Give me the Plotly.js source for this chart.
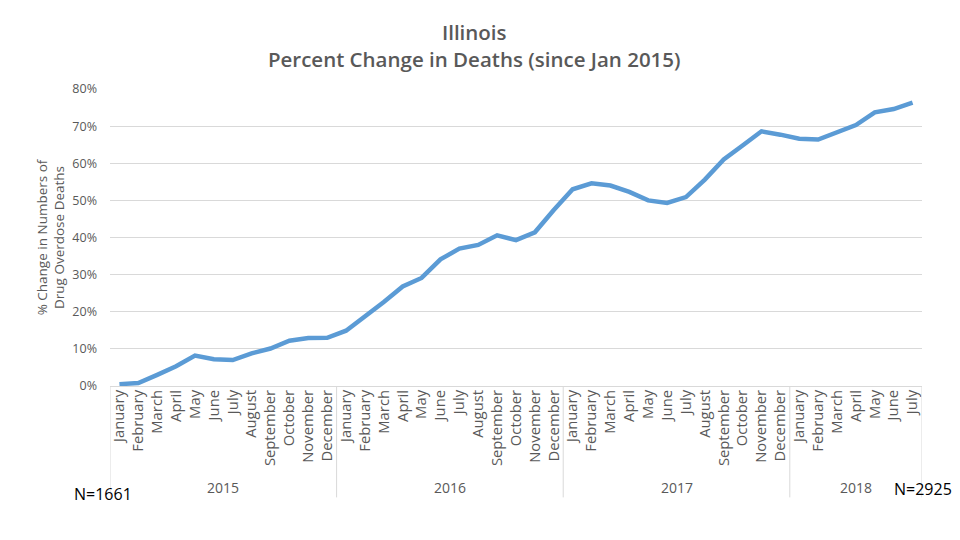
<!DOCTYPE html>
<html>
<head>
<meta charset="utf-8">
<script src="https://cdn.plot.ly/plotly-3.0.1.min.js"></script>
<style>html,body{margin:0;padding:0;background:#fff;}#chart{width:960px;height:540px;}</style>
</head>
<body>
<div id="chart"></div>
<script>
const months = ["January","February","March","April","May","June","July","August","September","October","November","December"];
const years = ["2015","2016","2017","2018"];
const monthsPerYear = [12, 12, 12, 7];
const pctChange = [
  0.5, 0.8, 3.0, 5.3, 8.2, 7.2, 7.0, 8.8, 10.1, 12.2, 12.9, 13.0,
  14.9, 18.6, 22.6, 26.8, 29.1, 34.1, 37.0, 38.0, 40.6, 39.3, 41.4, 47.4,
  53.0, 54.6, 54.0, 52.3, 50.0, 49.3, 50.9, 55.6, 61.0, 64.8, 68.6, 67.7,
  66.6, 66.4, 68.2, 70.3, 73.7, 74.6, 76.3
];
const yTicks = [0, 10, 20, 30, 40, 50, 60, 70, 80];
const nStart = "N=1661";
const nEnd = "N=2925";

const tickText = [];
const idx = [];
years.forEach((y, yi) => {
  for (let m = 0; m < monthsPerYear[yi]; m++) { tickText.push(months[m]); }
});
pctChange.forEach((v, i) => idx.push(i));

const font = "'Open Sans', 'Noto Sans', sans-serif";
const grey = "#595959";

const shapes = [];
const annotations = [];
let start = 0;
const boundaries = [-0.5];
years.forEach((y, yi) => {
  const end = start + monthsPerYear[yi];
  boundaries.push(end - 0.5);
  annotations.push({
    x: (start + end - 1) / 2, xref: "x", y: -0.342, yref: "paper",
    text: y, showarrow: false, font: {family: font, size: 14, color: grey},
    xanchor: "center", yanchor: "middle"
  });
  start = end;
});
boundaries.forEach(b => {
  shapes.push({type: "line", xref: "x", yref: "paper", x0: b, x1: b, y0: 0, y1: -0.375,
    line: {color: "#D9D9D9", width: 1}});
});
annotations.push({x: -0.009, xref: "paper", y: -0.363, yref: "paper", text: nStart, showarrow: false,
  font: {family: font, size: 16, color: "#000"}, xanchor: "center", yanchor: "middle"});
annotations.push({x: 1.001, xref: "paper", y: -0.346, yref: "paper", text: nEnd, showarrow: false,
  font: {family: font, size: 16, color: "#000"}, xanchor: "center", yanchor: "middle"});

const trace = {
  x: idx, y: pctChange, type: "scatter", mode: "lines",
  line: {color: "#5B9BD5", width: 4.5, shape: "linear"},
  hoverinfo: "skip"
};

const layout = {
  width: 960, height: 540,
  margin: {l: 110, r: 38, t: 89, b: 154},
  paper_bgcolor: "#fff", plot_bgcolor: "#fff",
  showlegend: false,
  title: {
    text: "Illinois<br>Percent Change in Deaths (since Jan 2015)",
    x: 0.494, xanchor: "center", y: 0.926, yanchor: "top",
    font: {family: font, size: 20.5, color: grey, weight: 600}
  },
  xaxis: {
    range: [-0.5, pctChange.length - 0.5],
    tickmode: "array", tickvals: idx, ticktext: tickText,
    tickangle: -90, showgrid: false, zeroline: false,
    showline: false, ticks: "",
    tickfont: {family: font, size: 14.8, color: grey},
    fixedrange: true
  },
  yaxis: {
    range: [0, 80], tickmode: "array", tickvals: yTicks,
    ticktext: yTicks.map(v => v + "%"),
    showgrid: true, gridcolor: "#D9D9D9", gridwidth: 1,
    zeroline: true, zerolinecolor: "#D9D9D9", zerolinewidth: 1,
    showline: false, ticks: "", ticklabelstandoff: 12,
    tickfont: {family: font, size: 12.5, color: grey},
    title: {text: "% Change in Numbers of<br>Drug Overdose Deaths", standoff: 4,
      font: {family: font, size: 13.5, color: grey}},
    fixedrange: true
  },
  shapes: shapes,
  annotations: annotations
};

Plotly.newPlot("chart", [trace], layout, {displayModeBar: false, staticPlot: true});
</script>
</body>
</html>
